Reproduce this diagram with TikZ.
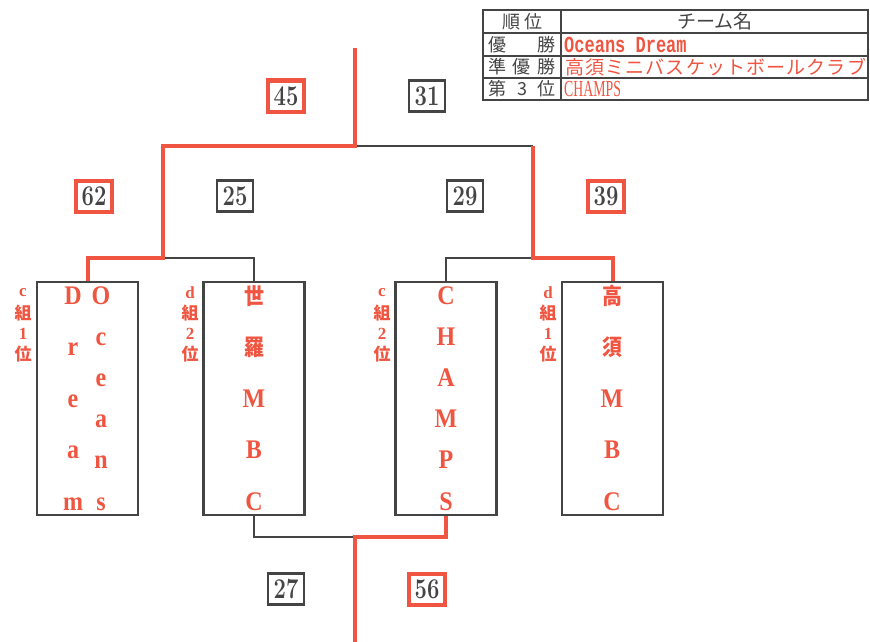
\documentclass[tikz,border=0pt]{standalone}
\usepackage{fontspec}
\usepackage{graphicx}
\newfontfamily\cjk{Noto Sans CJK JP}
\newfontfamily\monofam{Liberation Mono}
\newfontfamily\serifb{Liberation Serif}
\newcommand\cjkl[1]{{\fontsize{20}{20}\selectfont\cjk #1}}
\definecolor{myred}{RGB}{239,85,64}
\definecolor{mygrey}{RGB}{68,68,68}
\begin{document}
\begin{tikzpicture}[x=1pt,y=-1pt,
  greyline/.style={draw=mygrey,line width=2.5pt},
  redline/.style={draw=myred,line width=4pt},
  teambox/.style={draw=mygrey,line width=2.5pt,minimum width=101pt,minimum height=233pt,inner sep=0pt},
  scorebox/.style={minimum width=36pt,minimum height=31pt,inner sep=0pt,text=mygrey,font=\fontsize{22}{22}\selectfont\bfseries},
  scorewin/.style={scorebox,draw=myred,line width=4pt},
  scorelose/.style={scorebox,draw=mygrey,line width=2.5pt},
  letter/.style={anchor=base,inner sep=0pt,text=myred,font=\serifb\fontsize{24}{24}\selectfont\bfseries},
  grp/.style={inner sep=0pt,text=myred,font=\serifb\fontsize{17}{17}\selectfont\bfseries},
  tablecell/.style={inner sep=0pt,text=mygrey,font=\cjk\fontsize{18}{18}\selectfont},
  tablered/.style={inner sep=0pt,anchor=west,text=myred},
]
\useasboundingbox (0,0) rectangle (870,642);

% ---------- table ----------
\draw[greyline] (483,10) rectangle (868,100);
\draw[greyline] (483,33) -- (868,33);
\draw[greyline] (483,56) -- (868,56);
\draw[greyline] (483,78) -- (868,78);
\draw[greyline] (561,10) -- (561,100);
\node[tablecell] (h1) at (522,21.5) {\makebox[40pt]{順\hfill 位}};
\node[tablecell,font=\cjk\fontsize{19}{19}\selectfont] (h2) at (715,21.5) {チーム名};
\node[tablecell] (r1) at (522,44.5) {\makebox[68pt]{優\hfill 勝}};
\node[tablecell] (r2) at (522,67) {\makebox[68pt]{準\hfill 優\hfill 勝}};
\node[tablecell] (r3) at (522,89) {\makebox[68pt]{第\hfill 3\hfill 位}};
\node[tablered] (w1) at (564,44.5) {\scalebox{1}[1.35]{\monofam\bfseries\fontsize{17}{17}\selectfont Oceans Dream}};
\node[tablered] (w2) at (564,67) {\cjk\fontsize{19}{19}\selectfont\makebox[303pt]{高\hfil 須\hfil ミ\hfil ニ\hfil バ\hfil ス\hfil ケ\hfil ッ\hfil ト\hfil ボ\hfil ー\hfil ル\hfil ク\hfil ラ\hfil ブ}};
\node[tablered] (w3) at (564,89) {\scalebox{0.6}[1]{\serifb\fontsize{23}{23}\selectfont CHAMPS}};

% ---------- team boxes ----------
\node[teambox] (t1) at (87.5,398.5) {};
\node[teambox] (t2) at (254,398.5) {};
\node[teambox] (t3) at (446,398.5) {};
\node[teambox] (t4) at (612.5,398.5) {};

\foreach \c [count=\i] in {D,r,e,a,m}
  \node[letter] (dream\i) at (73,{304+(\i-1)*51.5}) {\scalebox{1}[1.12]{\c}};
\foreach \c [count=\i] in {O,c,e,a,n,s}
  \node[letter] (oceans\i) at (101,{304+(\i-1)*41.2}) {\scalebox{1}[1.12]{\c}};
\foreach \c [count=\i] in {{\cjkl{世}},{\cjkl{羅}},M,B,C}
  \node[letter] (sera\i) at (254,{304+(\i-1)*51.5}) {\scalebox{1}[1.12]{\c}};
\foreach \c [count=\i] in {C,H,A,M,P,S}
  \node[letter] (champs\i) at (446,{304+(\i-1)*41.2}) {\scalebox{1}[1.12]{\c}};
\foreach \c [count=\i] in {{\cjkl{高}},{\cjkl{須}},M,B,C}
  \node[letter] (takasu\i) at (612,{304+(\i-1)*51.5}) {\scalebox{1}[1.12]{\c}};

% ---------- group labels ----------
\foreach \t [count=\i] in {c,{\cjk 組},1,{\cjk 位}}
  \node[grp] (ga\i) at (23,{292.5+(\i-1)*20.5}) {\t};
\foreach \t [count=\i] in {d,{\cjk 組},2,{\cjk 位}}
  \node[grp] (gb\i) at (190,{292.5+(\i-1)*20.5}) {\t};
\foreach \t [count=\i] in {c,{\cjk 組},2,{\cjk 位}}
  \node[grp] (gc\i) at (382,{292.5+(\i-1)*20.5}) {\t};
\foreach \t [count=\i] in {d,{\cjk 組},1,{\cjk 位}}
  \node[grp] (gd\i) at (548,{292.5+(\i-1)*20.5}) {\t};

% ---------- bracket ----------
\coordinate (qa) at (163,258);
\coordinate (qb) at (533,258);
\coordinate (top) at (355,146);
\coordinate (topend) at (355,48);
\coordinate (qc) at (355,537);
\coordinate (botend) at (355,642);

\draw[greyline] (t2.north) |- (qa);
\draw[greyline] (t3.north) |- (qb);
\draw[greyline] (top) -- (top -| qb);
\draw[greyline] (t2.south) |- (qc);

\draw[redline] (t1.north) |- (qa) |- (top) -- (topend);
\draw[redline] (t4.north) |- (qb) -- (qb |- top);
\draw[redline] (t3.south) |- (qc) -- (botend);

% ---------- scores ----------
\node[scorewin] (s45) at (286,96) {\scalebox{1}[1.3]{45}};
\node[scorelose] (s31) at (427,96) {\scalebox{1}[1.3]{31}};
\node[scorewin] (s62) at (94,196) {\scalebox{1}[1.3]{62}};
\node[scorelose] (s25) at (235,196) {\scalebox{1}[1.3]{25}};
\node[scorelose] (s29) at (465,196) {\scalebox{1}[1.3]{29}};
\node[scorewin] (s39) at (606,196) {\scalebox{1}[1.3]{39}};
\node[scorelose] (s27) at (286,589) {\scalebox{1}[1.3]{27}};
\node[scorewin] (s56) at (427,589) {\scalebox{1}[1.3]{56}};
\end{tikzpicture}
\end{document}
